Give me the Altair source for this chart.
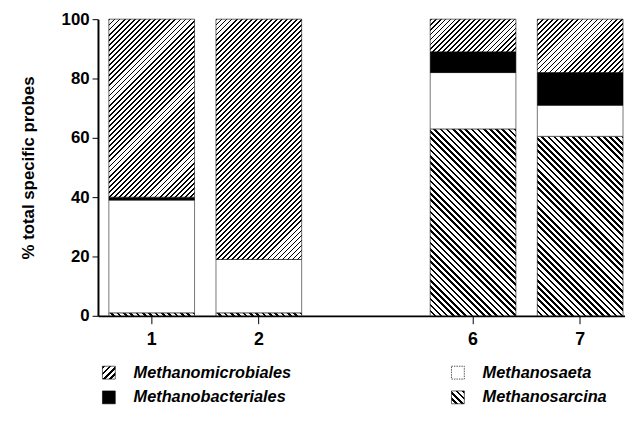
import math
import altair as alt
import pandas as pd

# ---------------- data ----------------
samples = ["1", "2", "6", "7"]
x_slots = ["1", "2", "gap", "6", "7"]          # empty slot between 2 and 6
species = ["Methanosarcina", "Methanosaeta", "Methanobacteriales", "Methanomicrobiales"]
methanosarcina = [1, 1, 63, 60.5]
methanosaeta = [38, 18, 19, 10.5]
methanobacteriales = [1, 0, 7, 11]
methanomicrobiales = [60, 81, 11, 18]
y_ticks = [0, 20, 40, 60, 80, 100]

legend_names = ["Methanomicrobiales", "Methanobacteriales", "Methanosaeta", "Methanosarcina"]
legend_col = [0, 0, 1, 1]
legend_row = [0, 1, 0, 1]

values = {
    "Methanosarcina": methanosarcina,
    "Methanosaeta": methanosaeta,
    "Methanobacteriales": methanobacteriales,
    "Methanomicrobiales": methanomicrobiales,
}
rows = []
for i, s in enumerate(samples):
    for j, sp in enumerate(species):
        rows.append({"sample": s, "species": sp, "order": j, "value": values[sp][i]})
df = pd.DataFrame(rows)

# ---------------- layout / style ----------------
FONT = "Liberation Sans"
W, H = 533, 300
P_INNER, P_OUTER, ALIGN = 0.2, 0.06, 0.846
STEP = W / (len(x_slots) - P_INNER + 2 * P_OUTER)
BAND = STEP * (1 - P_INNER)


def hatch(w, h, direction, period, dark=0.4):
    """Striped linear gradient giving 45-degree hatching in a w x h box."""
    k = (w + h) / (w * w + h * h)
    a, b = k * w, k * h
    n = max(1, round((w + h) / math.sqrt(2) / period))
    stops = []
    for i in range(n):
        s, m, e = i / n, (i + dark) / n, (i + 1) / n
        stops += [
            alt.GradientStop(color="black", offset=s),
            alt.GradientStop(color="black", offset=m),
            alt.GradientStop(color="white", offset=m),
            alt.GradientStop(color="white", offset=e),
        ]
    if direction == "/":
        x1, y1, x2, y2 = 0, 0, a, b
    else:
        x1, y1, x2, y2 = 1, 0, 1 - a, b
    return alt.LinearGradient(gradient="linear", stops=stops, x1=x1, y1=y1, x2=x2, y2=y2)


x_enc = alt.X(
    "sample:N",
    scale=alt.Scale(domain=x_slots, paddingInner=P_INNER, paddingOuter=P_OUTER, align=ALIGN),
    axis=alt.Axis(values=samples, title=None, labelAngle=0, tickSize=8, labelPadding=7,
                  labelFontSize=18, domainWidth=1.8),
)
y_enc = alt.Y(
    "y0:Q",
    scale=alt.Scale(domain=[0, 100], nice=False),
    axis=alt.Axis(values=y_ticks, title="% total specific probes", tickSize=6,
                  labelPadding=3, labelFontSize=17, titleFontSize=17, titlePadding=24,
                  domainWidth=2, grid=False),
)

base = alt.Chart(df).transform_stack(
    stack="value", groupby=["sample"], as_=["y0", "y1"],
    sort=[alt.SortField("order", order="ascending")],
)

layers = []
for i, s in enumerate(samples):
    for j, sp in enumerate(species):
        v = values[sp][i]
        if v <= 0:
            continue
        h = v / 100 * H
        if sp == "Methanosarcina":
            mk = dict(fill=hatch(BAND, h, "\\", 4.4, 0.42), stroke="black", strokeWidth=0.6)
        elif sp == "Methanomicrobiales":
            mk = dict(fill=hatch(BAND, h, "/", 3.6, 0.36), stroke="black", strokeWidth=0.6)
        elif sp == "Methanobacteriales":
            mk = dict(fill="black", stroke="black", strokeWidth=0.6)
        else:
            mk = dict(fill="white", stroke="#555555", strokeWidth=0.8)
        layers.append(
            base.transform_filter(
                f"datum.sample == '{s}' && datum.species == '{sp}'"
            ).mark_bar(**mk).encode(x=x_enc, y=y_enc, y2="y1:Q")
        )

main = alt.layer(*layers).properties(width=W, height=H)

# ---------------- custom legend with hatched swatches ----------------
leg_x = [11, 364]
leg_df = pd.DataFrame({
    "name": legend_names,
    "lx": [leg_x[c] for c in legend_col],
    "row": legend_row,
})
lx_enc = alt.X("lx:Q", scale=alt.Scale(domain=[0, W], nice=False, zero=False), axis=None)
ly_enc = alt.Y("row:O", scale=alt.Scale(domain=[0, 1]), axis=None)
SW = 13
swatch_fill = {
    "Methanomicrobiales": dict(fill=hatch(SW, SW, "/", 4.2), stroke="black", strokeWidth=0.6),
    "Methanobacteriales": dict(fill="black", stroke="black", strokeWidth=0.6),
    "Methanosaeta": dict(fill="white", stroke="#444444", strokeWidth=0.9, strokeDash=[1.5, 1]),
    "Methanosarcina": dict(fill=hatch(SW, SW, "\\", 4.2), stroke="black", strokeWidth=0.6),
}
leg_base = alt.Chart(leg_df)
leg_layers = []
for name in legend_names:
    leg_layers.append(
        leg_base.transform_filter(f"datum.name == '{name}'")
        .mark_square(size=SW * SW, opacity=1, **swatch_fill[name])
        .encode(x=lx_enc, y=ly_enc)
    )
leg_layers.append(
    leg_base.mark_text(align="left", baseline="middle", dx=25, font=FONT, fontSize=16.5,
                       fontStyle="italic", fontWeight="bold", color="black")
    .encode(x=lx_enc, y=ly_enc, text="name:N")
)
legend = alt.layer(*leg_layers).properties(width=W, height=50)

chart = (
    alt.vconcat(main, legend, spacing=12)
    .properties(padding={"left": 11, "top": 0, "right": 0, "bottom": 0})
    .configure_view(stroke=None)
    .configure_axis(labelFont=FONT, titleFont=FONT, labelFontWeight="bold",
                    titleFontWeight="bold", labelColor="black", titleColor="black",
                    domainColor="black", tickColor="black")
)

chart.save("out.html", embed_options={"renderer": "svg", "actions": False})
